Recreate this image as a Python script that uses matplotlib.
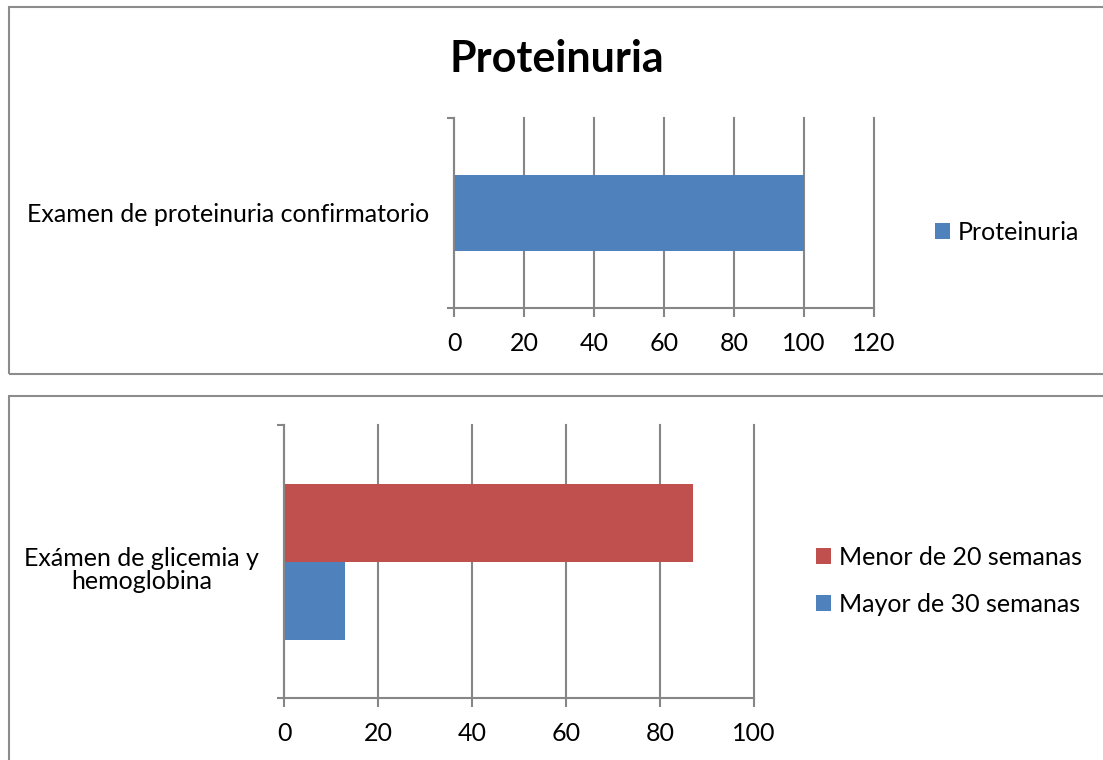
import matplotlib.pyplot as plt
from matplotlib.patches import Rectangle
from matplotlib.transforms import ScaledTranslation

# data
top_category = "Examen de proteinuria confirmatorio"
proteinuria = [100]
top_ticks = [0, 20, 40, 60, 80, 100, 120]

bottom_category = "Exámen de glicemia y\nhemoglobina"
menor_20 = [87]
mayor_30 = [13]
bottom_ticks = [0, 20, 40, 60, 80, 100]

BLUE = "#4F81BD"
RED = "#C0504D"
GRID = "#868686"
W, H = 1103, 760
FS = 18


def style_axes(ax, ticks, label, shift=0):
    ax.set_xlim(ticks[0], ticks[-1])
    ax.set_ylim(0, 1)
    ax.set_xticks(ticks)
    ax.xaxis.grid(True, color=GRID, linewidth=1.5)
    for line in ax.get_xgridlines():
        line.set_clip_on(False)
    ax.set_axisbelow(True)
    for side in ("top", "right"):
        ax.spines[side].set_visible(False)
    for side in ("left", "bottom"):
        ax.spines[side].set_color(GRID)
        ax.spines[side].set_linewidth(1.5)
    ax.set_yticks([0, 1])
    ax.set_yticklabels(["", ""])
    ax.set_yticks([0.5], [label], minor=True)
    ax.tick_params(axis="y", which="major", length=5, width=1.5,
                   color=GRID, direction="out")
    ax.tick_params(axis="y", which="minor", length=0, pad=18, labelsize=FS)
    ax.tick_params(axis="x", length=6.5, width=1.5, color=GRID,
                   labelsize=FS, pad=11)
    for t in ax.get_yticklabels(minor=True):
        t.set_multialignment("center")
        t.set_linespacing(1.05)
        t.set_transform(t.get_transform() +
                        ScaledTranslation(0, -shift / 100, fig.dpi_scale_trans))


plt.rcParams["font.family"] = ["Lato", "DejaVu Sans"]
fig = plt.figure(figsize=(W / 100, H / 100), dpi=100)

# panel borders
fig.add_artist(Rectangle((9 / W, 1 - 374 / H), 1.2, (374 - 7) / H,
                         transform=fig.transFigure, fill=False,
                         edgecolor="#8c8c8c", linewidth=1.5))
fig.add_artist(Rectangle((9 / W, -0.2), 1.2, 0.2 + (760 - 396) / H,
                         transform=fig.transFigure, fill=False,
                         edgecolor="#8c8c8c", linewidth=1.5))

# top chart
ax1 = fig.add_axes([454 / W, 1 - 308 / H, 420 / W, 190 / H])
b1 = ax1.barh([0.5], proteinuria, height=0.4, color=BLUE, label="Proteinuria")
style_axes(ax1, top_ticks, top_category)
fig.text(557 / W, 1 - 59 / H, "Proteinuria", ha="center", va="center",
         fontsize=31, fontweight="bold")
fig.legend(handles=[b1], loc="center left", bbox_to_anchor=(935 / W, 1 - 232 / H),
           frameon=False, fontsize=FS, handlelength=0.6, handleheight=0.6,
           handletextpad=0.3, borderpad=0, borderaxespad=0)

# bottom chart
bh = 2 / 7
ax2 = fig.add_axes([284 / W, 1 - 698 / H, 470 / W, 273 / H])
r = ax2.barh([0.5 + bh / 2], menor_20, height=bh, color=RED,
             label="Menor de 20 semanas")
b = ax2.barh([0.5 - bh / 2], mayor_30, height=bh, color=BLUE,
             label="Mayor de 30 semanas")
style_axes(ax2, bottom_ticks, bottom_category, shift=6)
fig.legend(handles=[r, b], loc="center left", bbox_to_anchor=(816 / W, 1 - 581 / H),
           frameon=False, fontsize=FS, handlelength=0.6, handleheight=0.6,
           handletextpad=0.3, labelspacing=0.95, borderpad=0, borderaxespad=0)

fig.savefig("out.png", dpi=100)
